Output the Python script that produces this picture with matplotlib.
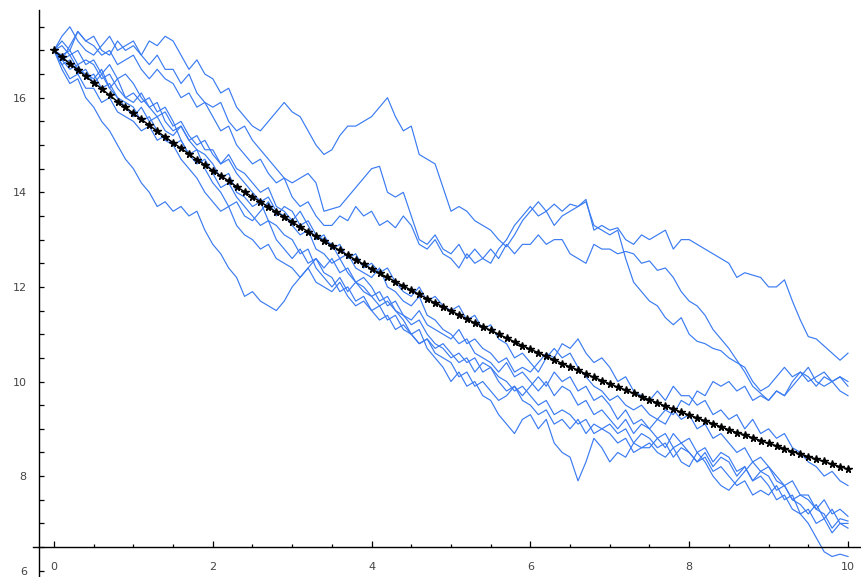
import matplotlib
matplotlib.use('Agg')
import matplotlib.pyplot as plt
import numpy as np

# Mittelwert (schwarze Kurve), Schritt 0.1 von t=0 bis t=10
mean_path = [
    17.00, 16.86, 16.72, 16.59, 16.45, 16.32, 16.19, 16.05, 15.92, 15.80,
    15.67, 15.54, 15.42, 15.29, 15.17, 15.05, 14.93, 14.81, 14.69, 14.58,
    14.46, 14.35, 14.24, 14.12, 14.01, 13.90, 13.80, 13.69, 13.58, 13.48,
    13.37, 13.27, 13.17, 13.07, 12.97, 12.87, 12.77, 12.67, 12.57, 12.48,
    12.38, 12.29, 12.20, 12.11, 12.02, 11.93, 11.84, 11.75, 11.66, 11.58,
    11.49, 11.41, 11.32, 11.24, 11.16, 11.08, 11.00, 10.92, 10.84, 10.76,
    10.68, 10.61, 10.53, 10.46, 10.38, 10.31, 10.24, 10.16, 10.09, 10.02,
    9.95, 9.88, 9.82, 9.75, 9.68, 9.61, 9.55, 9.48, 9.42, 9.35,
    9.29, 9.23, 9.17, 9.11, 9.04, 8.98, 8.92, 8.87, 8.81, 8.75,
    8.69, 8.64, 8.58, 8.52, 8.47, 8.41, 8.36, 8.31, 8.25, 8.20,
    8.15,
]

# einzelne Pfade (blau)
path1 = [
    17.0, 17.2, 17.0, 17.4, 17.2, 17.3, 17.0, 16.9, 17.2, 17.0,
    17.1, 16.9, 17.2, 17.1, 17.3, 17.2, 16.9, 16.6, 16.8, 16.5,
    16.4, 16.1, 16.2, 15.8, 15.6, 15.4, 15.3, 15.5, 15.7, 15.9,
    15.7, 15.6, 15.3, 15.0, 14.8, 14.9, 15.2, 15.4, 15.4, 15.5,
    15.6, 15.8, 16.0, 15.6, 15.3, 15.4, 14.8, 14.7, 14.6, 14.1,
    13.6, 13.7, 13.6, 13.4, 13.3, 13.2, 13.0, 12.85, 13.1, 13.4,
    13.6, 13.8, 13.6, 13.75, 13.6, 13.75, 13.7, 13.85, 13.2, 13.3,
    13.2, 13.25, 13.0, 12.9, 13.1, 13.0, 13.1, 13.2, 12.8, 13.0,
    13.0, 12.9, 12.8, 12.7, 12.6, 12.5, 12.2, 12.3, 12.25, 12.2,
    12.0, 12.0, 12.15, 11.7, 11.3, 10.95, 10.9, 10.75, 10.6, 10.45,
    10.6,
]
path2 = [
    17.0, 17.3, 17.5, 17.2, 17.0, 16.9, 17.1, 17.3, 17.0, 17.1,
    17.2, 16.9, 16.7, 16.9, 16.6, 16.6, 16.3, 16.5, 16.1, 15.9,
    15.8, 15.9, 15.5, 15.3, 15.4, 15.1, 14.9, 14.7, 14.5, 14.3,
    14.2, 14.3, 14.4, 14.2, 13.6, 13.65, 13.7, 13.9, 14.1, 14.3,
    14.5, 14.55, 14.0, 13.9, 14.0, 13.5, 13.0, 12.9, 13.1, 12.8,
    12.7, 12.9, 12.6, 12.8, 12.6, 12.5, 12.8, 13.0, 13.3, 13.5,
    13.7, 13.5, 13.6, 13.3, 13.5, 13.6, 13.7, 13.8, 13.3, 13.2,
    13.1, 13.2, 12.6, 12.1, 11.9, 11.7, 11.6, 11.35, 11.2, 11.35,
    11.0, 10.85, 10.8, 10.7, 10.65, 10.5, 10.4, 10.3, 10.0, 9.8,
    9.9, 10.1, 10.3, 10.1, 10.2, 10.0, 10.1, 10.2, 10.0, 10.1,
    9.9,
]
path3 = [
    17.0, 16.8, 17.1, 17.4, 17.2, 17.1, 16.9, 17.0, 16.7, 16.8,
    16.9, 16.6, 16.4, 16.6, 16.4, 16.3, 16.0, 16.1, 15.8, 15.9,
    15.6, 15.3, 15.4, 15.0, 14.8, 14.6, 14.7, 14.4, 14.2, 14.3,
    13.9, 13.7, 13.8, 13.5, 13.3, 13.3, 13.5, 13.4, 13.7, 13.5,
    13.6, 13.3, 13.4, 13.25, 13.5, 13.3, 12.9, 12.8, 13.0, 12.7,
    12.6, 12.4, 12.7, 12.5, 12.6, 12.8, 12.6, 12.9, 12.7, 12.9,
    12.9, 13.1, 12.9, 13.0, 13.0, 12.7, 12.6, 12.5, 12.9, 12.8,
    12.8, 12.7, 12.75, 12.7, 12.5, 12.55, 12.35, 12.4, 12.2, 11.9,
    11.7, 11.6, 11.4, 11.1, 10.9, 10.7, 10.45, 10.2, 9.9, 9.75,
    9.6, 9.8, 9.7, 9.9, 10.1, 10.3, 10.0, 9.9, 10.0, 9.8,
    9.7,
]
path4 = [
    17.0, 16.9, 17.0, 16.7, 16.8, 16.7, 16.4, 16.5, 16.2, 16.0,
    15.9, 16.1, 15.8, 15.6, 15.7, 15.4, 15.5, 15.2, 15.0, 15.1,
    14.8, 14.6, 14.8, 14.5, 14.4, 14.2, 14.0, 14.1, 13.7, 13.6,
    13.4, 13.6, 13.3, 13.0, 13.1, 12.8, 12.9, 12.6, 12.7, 12.4,
    12.5, 12.3, 12.4, 12.1, 11.9, 11.8, 12.0, 11.7, 11.8, 11.6,
    11.5, 11.6, 11.3, 11.4, 11.1, 11.2, 10.9, 10.8, 10.5, 10.6,
    10.4, 10.2, 10.5, 10.7, 10.5, 10.6, 10.3, 10.1, 9.9, 9.8,
    9.6, 9.7, 9.5, 9.4, 9.5, 9.3, 9.2, 9.4, 9.3, 9.6,
    9.5, 9.8, 9.7, 10.0, 9.9, 10.0, 9.8, 9.9, 9.6, 9.7,
    9.6, 9.8, 9.7, 10.0, 10.2, 10.1, 9.9, 10.1, 10.0, 10.1,
    10.0,
]
path5 = [
    17.0, 16.8, 16.9, 16.6, 16.5, 16.4, 16.6, 16.2, 16.0, 15.8,
    15.6, 15.8, 15.5, 15.6, 15.3, 15.2, 15.4, 15.1, 14.9, 14.8,
    14.6, 14.3, 14.4, 14.0, 13.9, 13.7, 13.8, 13.4, 13.3, 13.1,
    13.0, 12.7, 12.8, 12.4, 12.2, 12.0, 12.2, 11.9, 12.1, 11.9,
    11.8, 11.6, 11.7, 11.5, 11.4, 11.3, 11.5, 11.2, 11.1, 11.0,
    10.9, 11.1, 10.8, 10.9, 10.7, 10.6, 10.4, 10.5, 10.2, 10.3,
    10.2, 10.4, 10.6, 10.5, 10.8, 10.7, 10.9, 10.6, 10.4, 10.5,
    10.3, 10.0, 10.1, 9.8, 9.7, 9.6, 9.8, 9.6, 9.9, 9.7,
    9.7, 9.5, 9.6, 9.3, 9.4, 9.2, 9.3, 9.0, 9.2, 8.9,
    9.0, 8.8, 8.9, 8.6, 8.5, 8.3, 8.2, 8.0, 8.1, 7.9,
    7.8,
]
path6 = [
    17.0, 16.7, 16.8, 16.5, 16.6, 16.3, 16.5, 16.2, 16.4, 16.0,
    16.1, 15.9, 16.0, 15.7, 15.8, 15.5, 15.1, 14.8, 14.9, 14.5,
    14.2, 14.0, 13.7, 13.8, 13.5, 13.4, 13.6, 13.8, 13.5, 13.7,
    13.6, 13.3, 13.4, 13.1, 13.0, 12.9, 12.6, 12.7, 12.4, 12.3,
    12.2, 12.4, 12.0, 11.9, 11.7, 11.6, 11.8, 11.4, 11.3, 11.1,
    11.0, 10.8, 10.9, 10.6, 10.5, 10.4, 10.2, 10.4, 10.1, 10.2,
    10.0, 9.8, 10.0, 9.7, 9.9, 9.8, 9.5, 9.6, 9.3, 9.4,
    9.2, 9.0, 9.2, 8.9, 9.1, 9.0, 9.2, 9.1, 9.4, 9.2,
    9.3, 9.0, 9.1, 8.8, 8.9, 8.7, 8.5, 8.6, 8.3, 8.4,
    8.2, 8.0, 7.8, 7.9, 7.6, 7.5, 7.3, 7.5, 7.2, 7.3,
    7.15,
]
path7 = [
    17.0, 17.1, 16.9, 17.0, 16.7, 16.8, 16.5, 16.7, 16.4, 16.5,
    16.3, 16.0, 15.8, 15.9, 15.5, 15.3, 15.4, 15.1, 15.2, 14.9,
    14.9, 14.6, 14.7, 14.4, 14.2, 14.0, 13.8, 13.9, 13.6, 13.5,
    13.3, 13.1, 13.2, 12.8, 12.7, 12.5, 12.6, 12.3, 12.1, 12.0,
    11.8, 11.9, 11.6, 11.7, 11.4, 11.2, 11.3, 11.0, 10.8, 10.7,
    10.5, 10.6, 10.4, 10.5, 10.2, 10.3, 10.1, 10.0, 9.8, 9.9,
    9.7, 9.5, 9.6, 9.3, 9.4, 9.3, 9.1, 9.2, 8.9, 9.0,
    8.9, 8.7, 8.8, 8.5, 8.6, 8.6, 8.8, 8.6, 8.9, 8.7,
    8.8, 8.5, 8.6, 8.3, 8.5, 8.4, 8.1, 8.2, 7.9, 8.1,
    8.0, 7.7, 7.8, 7.5, 7.4, 7.2, 7.4, 7.1, 7.3, 7.0,
    7.0,
]
path8 = [
    17.0, 16.8, 16.6, 16.7, 16.4, 16.5, 16.2, 16.3, 16.0, 15.9,
    15.8, 15.5, 15.6, 15.3, 15.1, 15.0, 15.1, 14.8, 14.6, 14.7,
    14.4, 14.1, 14.2, 13.9, 13.7, 13.5, 13.3, 13.4, 13.0, 12.8,
    12.6, 12.8, 12.5, 12.6, 12.3, 12.2, 11.9, 12.0, 11.7, 11.8,
    11.5, 11.6, 11.3, 11.4, 11.1, 11.0, 10.8, 10.9, 10.6, 10.5,
    10.4, 10.1, 10.2, 9.9, 10.0, 9.8, 9.6, 9.7, 9.9, 9.7,
    9.9, 10.1, 9.9, 10.2, 10.0, 10.1, 9.8, 9.9, 9.6, 9.7,
    9.5, 9.2, 9.4, 9.1, 9.2, 9.0, 8.8, 8.9, 8.6, 8.7,
    8.5, 8.3, 8.4, 8.1, 8.2, 8.0, 7.8, 7.9, 7.6, 7.7,
    7.6, 7.8, 7.5, 7.6, 7.2, 7.3, 7.0, 7.1, 6.8, 7.0,
    6.9,
]
path9 = [
    17.0, 16.7, 16.4, 16.5, 16.2, 16.2, 15.9, 16.0, 15.7, 15.6,
    15.5, 15.3, 15.4, 15.1, 15.2, 15.0, 14.7, 14.5, 14.3, 14.0,
    13.8, 13.6, 13.7, 13.3, 13.1, 13.0, 12.8, 12.9, 12.6, 12.5,
    12.4, 12.2, 12.4, 12.1, 12.0, 11.9, 12.1, 11.8, 11.6, 11.7,
    11.5, 11.3, 11.4, 11.1, 11.2, 11.0, 10.8, 10.9, 10.7, 10.8,
    10.6, 10.4, 10.5, 10.2, 10.4, 10.3, 10.0, 9.8, 9.9, 9.6,
    9.5, 9.3, 9.4, 9.1, 9.2, 9.0, 9.2, 8.9, 9.1, 9.0,
    9.1, 8.9, 9.0, 8.7, 8.9, 8.8, 8.6, 8.7, 8.4, 8.6,
    8.5, 8.3, 8.5, 8.2, 8.4, 8.3, 8.0, 8.2, 7.9, 8.0,
    7.8, 7.5, 7.6, 7.3, 7.2, 7.0, 6.7, 6.4, 6.3, 6.35,
    6.3,
]
path10 = [
    17.0, 16.6, 16.3, 16.4, 16.0, 15.8, 15.5, 15.3, 15.0, 14.7,
    14.5, 14.2, 14.0, 13.7, 13.8, 13.6, 13.7, 13.5, 13.6, 13.2,
    12.9, 12.7, 12.4, 12.2, 11.8, 11.9, 11.7, 11.6, 11.5, 11.7,
    12.0, 12.2, 12.4, 12.6, 12.4, 12.6, 12.3, 12.4, 12.1, 12.2,
    12.0, 11.7, 11.8, 11.5, 11.3, 11.0, 11.1, 10.7, 10.5, 10.3,
    10.0, 10.2, 9.9, 10.0, 9.7, 9.6, 9.3, 9.1, 8.9, 9.2,
    9.3, 9.0, 9.2, 8.7, 8.5, 8.4, 7.9, 8.3, 8.8, 8.6,
    8.3, 8.5, 8.4, 8.7, 8.6, 8.7, 8.5, 8.4, 8.6, 8.3,
    8.2, 8.5, 8.3, 8.0, 7.8, 7.7, 7.9, 8.1, 8.3, 8.1,
    8.2, 7.9, 7.8, 7.5, 7.6, 7.6, 7.3, 7.2, 6.9, 7.1,
    7.05,
]
paths = [path1, path2, path3, path4, path5, path6, path7, path8, path9, path10]

x_ticks = [0, 2, 4, 6, 8, 10]
y_ticks = [6, 8, 10, 12, 14, 16]


def main():
    fig = plt.figure(figsize=(8.61, 5.77), dpi=100)
    ax = fig.add_axes([0, 0, 1, 1])
    ax.set_xlim(-0.68, 10.164)
    ax.set_ylim(5.867, 18.066)

    for p in paths:
        t = np.linspace(0, 10, len(p))
        ax.plot(t, p, color='#3a7bf2', linewidth=0.85, zorder=2)

    t = np.linspace(0, 10, len(mean_path))
    ax.plot(t, mean_path, color='black', linewidth=1.1, marker='*',
            markersize=5.5, zorder=3)

    # Achsen im Mathematica-Stil
    ax.spines['top'].set_visible(False)
    ax.spines['right'].set_visible(False)
    ax.spines['left'].set_position(('data', -0.185))
    ax.spines['bottom'].set_position(('data', 6.5))
    ax.spines['left'].set_bounds(5.87, 17.85)
    ax.spines['bottom'].set_bounds(-0.26, 10.164)
    for s in ('left', 'bottom'):
        ax.spines[s].set_linewidth(1.0)

    ax.set_xticks(x_ticks)
    ax.set_xticks([v for v in np.arange(0, 10.01, 0.5) if v % 2 != 0],
                  minor=True)
    ax.set_yticks(y_ticks)
    ax.set_yticks([v for v in np.arange(6, 17.6, 0.5) if v % 2 != 0],
                  minor=True)
    ax.tick_params(axis='x', which='major', direction='in', length=4,
                   width=0.9, pad=11, labelsize=8, labelcolor='#444444')
    ax.tick_params(axis='x', which='minor', direction='in', length=2.5,
                   width=0.9)
    ax.tick_params(axis='y', which='major', direction='in', length=3.5,
                   width=0.9, pad=9, labelsize=8, labelcolor='#444444')
    ax.tick_params(axis='y', which='minor', direction='in', length=3.5,
                   width=0.9)

    fig.savefig('out.png', dpi=100)


if __name__ == '__main__':
    main()
